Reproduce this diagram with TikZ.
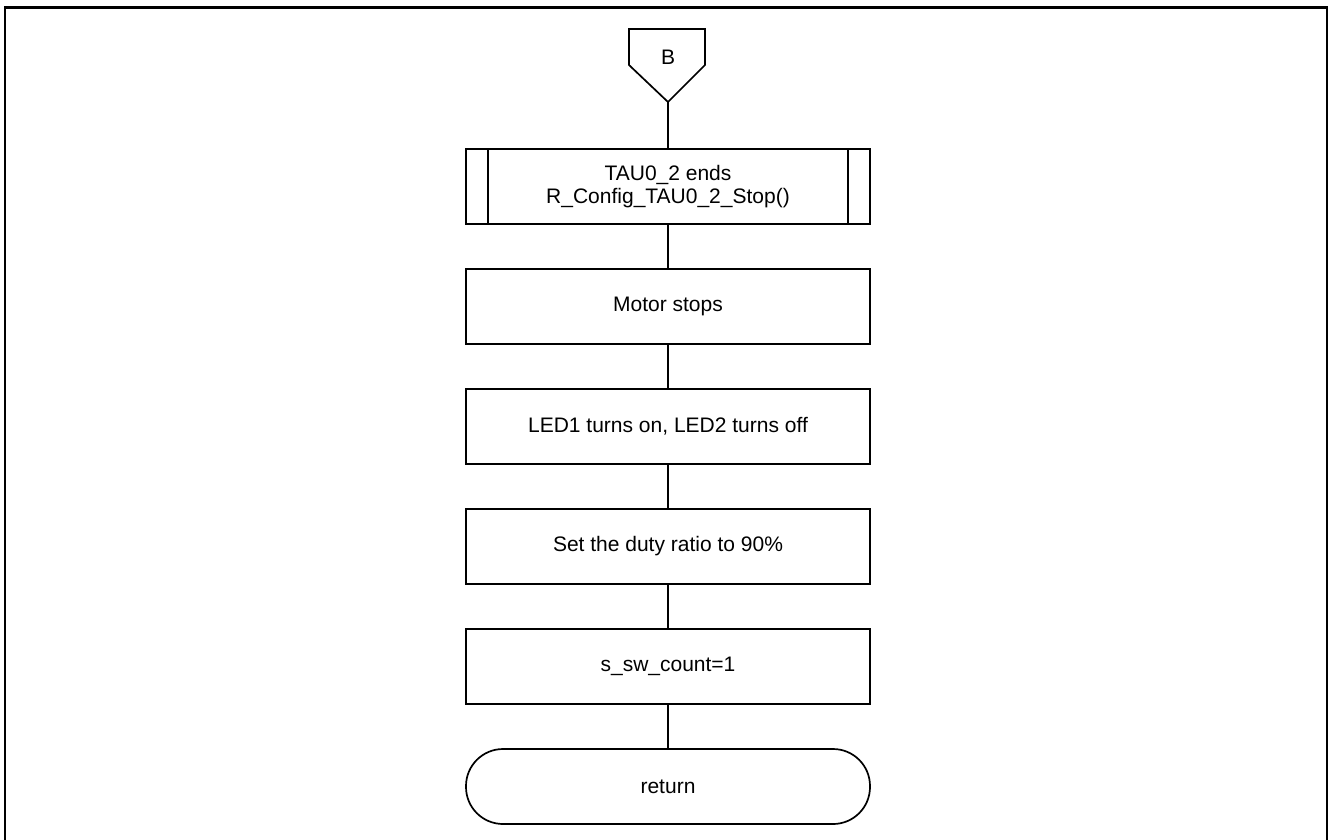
\documentclass[tikz,border=0pt]{standalone}
\usepackage{fontspec}
\setmainfont{Liberation Sans}
\begin{document}
\begin{tikzpicture}[x=1pt,y=-1pt,
  box/.style={draw,line width=1.7pt,minimum width=404pt,minimum height=75pt,inner sep=0pt,align=center,font=\fontsize{21}{23.5}\selectfont},
  term/.style={box,rounded corners=37pt},
  link/.style={line width=1.7pt},
  frame/.style={line width=2.6pt}]
\useasboundingbox (0,0) rectangle (1330,839);
\draw[frame] (5,842) -- (5,7.5) -- (1327,7.5) -- (1327,842);
% off-page connector B
\draw[link] (629,29) -- (705,29) -- (705,65) -- (668,102) -- (629,65) -- cycle;
\node[font=\fontsize{21}{25}\selectfont] (B) at (668,57) {B};
\coordinate (Bbot) at (668,102);
% subroutine
\node[box] (sub) at (668,186.5) {TAU0\_2 ends\\R\_Config\_TAU0\_2\_Stop()};
\draw[link] ([xshift=23pt]sub.north west) -- ([xshift=23pt]sub.south west);
\draw[link] ([xshift=-23pt]sub.north east) -- ([xshift=-23pt]sub.south east);
\node[box] (motor) at (668,306.5) {Motor stops};
\node[box] (led) at (668,426.5) {LED1 turns on, LED2 turns off};
\node[box] (duty) at (668,546.5) {Set the duty ratio to 90\%};
\node[box] (cnt) at (668,666.5) {s\_sw\_count=1};
\node[term] (ret) at (668,786.5) {return};
\draw[link] (Bbot) -- (sub);
\draw[link] (sub) -- (motor);
\draw[link] (motor) -- (led);
\draw[link] (led) -- (duty);
\draw[link] (duty) -- (cnt);
\draw[link] (cnt) -- (ret);
\end{tikzpicture}
\end{document}
